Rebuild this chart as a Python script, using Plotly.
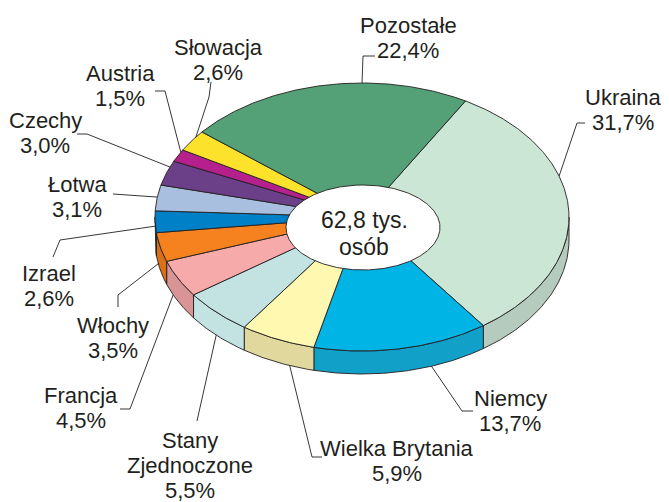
import numpy as np
import plotly.graph_objects as go

# ---------------- data ----------------
CATEGORIES = ["Ukraina", "Niemcy", "Wielka Brytania", "Stany Zjednoczone", "Francja",
              "Włochy", "Izrael", "Łotwa", "Czechy", "Austria", "Słowacja", "Pozostałe"]
SHARES = [31.7, 13.7, 5.9, 5.5, 4.5, 3.5, 2.6, 3.1, 3.0, 1.5, 2.6, 22.4]
CENTER_LINES = ["62,8 tys.", "osób"]

# ---------------- style / layout ----------------
TOP_COLORS = ["#cce6d5", "#00b4e6", "#fff8b0", "#c3e2e2", "#f6aaaa", "#f5821f",
              "#0080c6", "#a9bfe0", "#6b4088", "#b5208c", "#fce22a", "#55a177"]
SIDE_COLORS = ["#b5cbbd", "#10a0c8", "#e0d89c", "#c3e2e2", "#d99595", "#d97018",
               "#0068a8", "#8fa5c6", "#55306e", "#95186f", "#d8c020", "#448a62"]
LINE_COLOR = "#231f20"
FONT = "Liberation Sans, Arial, sans-serif"

W, H = 669, 502
PAGE_OFFSET = 8  # default body margin of the html page
CX, CY, A, B = 362.0, 217.0, 207.0, 134.0   # top ellipse (pixel space)
DEPTH = 23.0
HOLE_CX, HOLE_CY, HOLE_A, HOLE_B = 363.0, 227.5, 77.0, 42.5
START_ANGLE = 30.0  # degrees clockwise from 12 o'clock

NAME_LINES = {"Stany Zjednoczone": ["Stany", "Zjednoczone"]}
# label position (center x, y of first line)
LABEL_POS = [(623, 97), (510, 398), (397, 448), (190, 440), (81, 395), (113, 325),
             (49, 273), (77, 184), (45, 120), (120, 73), (218, 47), (408, 25)]
LINE_STEP = 25
# leader-line elbows (pixel) and where along the slice it lands
LEADER_ELBOWS = [
    [(585, 123), (577, 123)],
    [(473, 411), (462, 411)],
    [(322, 457), (312, 457)],
    [(197, 421)],
    [(120, 409), (130, 409)],
    [(118, 307), (118, 295)],
    [(53, 257), (60, 240)],
    [(113, 194)],
    [(77, 134), (87, 134)],
    [(155, 91), (165, 91)],
    [(211, 82), (209, 97)],
    [(375, 56), (363, 56)],
]
LEADER_FRAC = [0.37, 0.33, 0.33, 0.51, 0.70, 0.64, 0.30, 0.53, 0.75, 0.80, 0.71, 0.628]
LEADER_DEPTH = [0, 1.0, 1.0, 1.0, 1.0, 0.87, 0, 0, 0, 0, 0, 0]


def pt(theta_deg, dz=0.0, cx=CX, cy=CY, a=A, b=B):
    t = np.radians(theta_deg)
    return cx + a * np.sin(t), cy - b * np.cos(t) + dz


def arc(t1, t2, dz=0.0):
    n = max(int(abs(t2 - t1) * 2), 2)
    th = np.linspace(t1, t2, n)
    x, y = pt(th, dz)
    return list(x), list(y)


total = float(sum(SHARES))
edges = START_ANGLE + 360.0 * np.concatenate([[0], np.cumsum(SHARES)]) / total

fig = go.Figure()

# side walls (front half only)
for i, name in enumerate(CATEGORIES):
    t1, t2 = edges[i], edges[i + 1]
    lo, hi = max(t1, 90.0), min(t2, 270.0)
    if hi <= lo:
        continue
    xt, yt = arc(lo, hi)
    xb, yb = arc(hi, lo, DEPTH)
    fig.add_trace(go.Scatter(
        x=xt + xb + [xt[0]], y=yt + yb + [yt[0]], mode="lines", fill="toself",
        fillcolor=SIDE_COLORS[i], line=dict(color=LINE_COLOR, width=0.9),
        hoverinfo="skip", showlegend=False))

# top faces
for i, name in enumerate(CATEGORIES):
    t1, t2 = edges[i], edges[i + 1]
    xa, ya = arc(t1, t2)
    fig.add_trace(go.Scatter(
        x=[CX] + xa + [CX], y=[CY] + ya + [CY], mode="lines", fill="toself",
        fillcolor=TOP_COLORS[i], line=dict(color=LINE_COLOR, width=0.9),
        name=name, hoverinfo="text",
        text=f"{name}: {SHARES[i]}%", showlegend=False))

# hole
th = np.linspace(0, 360, 361)
hx, hy = pt(th, 0, HOLE_CX, HOLE_CY, HOLE_A, HOLE_B)
fig.add_trace(go.Scatter(x=list(hx), y=list(hy), mode="lines", fill="toself",
                         fillcolor="white", line=dict(color=LINE_COLOR, width=0.9),
                         hoverinfo="skip", showlegend=False))

# leader lines + labels
annotations = []
for i, name in enumerate(CATEGORIES):
    t1, t2 = edges[i], edges[i + 1]
    theta = t1 + LEADER_FRAC[i] * (t2 - t1)
    ex, ey = pt(theta, LEADER_DEPTH[i] * DEPTH)
    pts = LEADER_ELBOWS[i] + [(float(ex), float(ey))]
    fig.add_trace(go.Scatter(x=[p[0] for p in pts], y=[p[1] for p in pts], mode="lines",
                             line=dict(color=LINE_COLOR, width=0.9),
                             hoverinfo="skip", showlegend=False))
    lines = NAME_LINES.get(name, [name]) + [f"{SHARES[i]:.1f}".replace(".", ",") + "%"]
    lx, ly = LABEL_POS[i]
    for k, txt in enumerate(lines):
        annotations.append(dict(x=lx, y=ly + k * LINE_STEP, xref="x", yref="y", text=txt,
                                showarrow=False, xanchor="center", yanchor="middle",
                                font=dict(family=FONT, size=22, color=LINE_COLOR)))

for k, txt in enumerate(CENTER_LINES):
    annotations.append(dict(x=364, y=220 + k * 27, xref="x", yref="y", text=txt,
                            showarrow=False, xanchor="center", yanchor="middle",
                            font=dict(family=FONT, size=23, color=LINE_COLOR)))

fig.update_layout(
    width=W - PAGE_OFFSET, height=H - PAGE_OFFSET, autosize=False,
    margin=dict(l=0, r=0, t=0, b=0),
    paper_bgcolor="white", plot_bgcolor="white",
    xaxis=dict(range=[PAGE_OFFSET, W], visible=False, fixedrange=True),
    yaxis=dict(range=[H, PAGE_OFFSET], visible=False, fixedrange=True),
    annotations=annotations,
    showlegend=False,
)

fig.write_html("out.html")
